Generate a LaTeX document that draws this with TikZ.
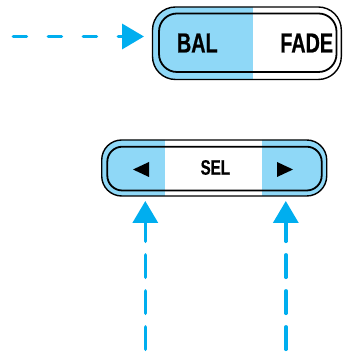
\documentclass[tikz,border=0pt]{standalone}
\usepackage{fontspec}
\usetikzlibrary{arrows.meta}
\newfontfamily\condfont[FakeStretch=0.72,FakeBold=0.6]{Liberation Sans}
\definecolor{arrowblue}{RGB}{0,174,239}
\definecolor{padblue}{RGB}{143,216,247}
\tikzset{
  arrowline/.style={draw=arrowblue, line width=3.5pt, line cap=round,
    -{Triangle[length=22pt,width=25pt]}},
  hdash/.style={dash pattern=on 13.2pt off 21.8pt},
  vdash/.style={dash pattern=on 22.5pt off 13.5pt},
  outerline/.style={draw=black, line width=1.4pt},
  innerline/.style={draw=black, line width=1.8pt},
  bigtxt/.style={inner sep=0pt, font=\condfont\bfseries\fontsize{27.5}{27.5}\selectfont},
  smalltxt/.style={inner sep=0pt, font=\condfont\bfseries\fontsize{21}{21}\selectfont},
  tri/.style={fill=black, draw=none}
}
\begin{document}
\begin{tikzpicture}[x=1pt,y=1pt]
\useasboundingbox (0,0) rectangle (342,352);
% ---- top button BAL / FADE ----
\begin{scope}
  \clip[rounded corners=23pt] (152.5,272.5) rectangle (341.3,345);
  \fill[padblue] (150,270) rectangle (253,347);
\end{scope}
\draw[outerline, rounded corners=23pt] (152.5,272.5) rectangle (341.3,345);
\draw[innerline, rounded corners=18pt] (159,280) rectangle (336.5,338.5);
\node[bigtxt] (bal) at (197.3,309) {BAL};
\node[bigtxt] (fade) at (306.7,309) {FADE};
% ---- bottom button SEL ----
\begin{scope}
  \clip[rounded corners=20pt] (101.7,156) rectangle (326.7,212);
  \fill[padblue] (100,150) rectangle (165,215);
  \fill[padblue] (262,150) rectangle (330,215);
\end{scope}
\draw[outerline, rounded corners=20pt] (101.7,156) rectangle (326.7,212);
\draw[innerline, rounded corners=15pt] (107.3,161.5) rectangle (321.7,205.3);
\node[smalltxt] (sel) at (215.3,184.5) {SEL};
\fill[tri] (133,182.5) -- (149,190) -- (149,175) -- cycle;
\fill[tri] (293,182.5) -- (277,190) -- (277,175) -- cycle;
% ---- arrows ----
\coordinate (hsrc) at (13.3,315.5);
\coordinate (htip) at (144,315.5);
\draw[arrowline, hdash] (hsrc) -- (htip);
\coordinate (lsrc) at (145.3,2.65);
\coordinate (ltip) at (145.3,151);
\draw[arrowline, vdash] (lsrc) -- (ltip);
\coordinate (rsrc) at (285.8,2.65);
\coordinate (rtip) at (285.8,151);
\draw[arrowline, vdash] (rsrc) -- (rtip);
\end{tikzpicture}
\end{document}
